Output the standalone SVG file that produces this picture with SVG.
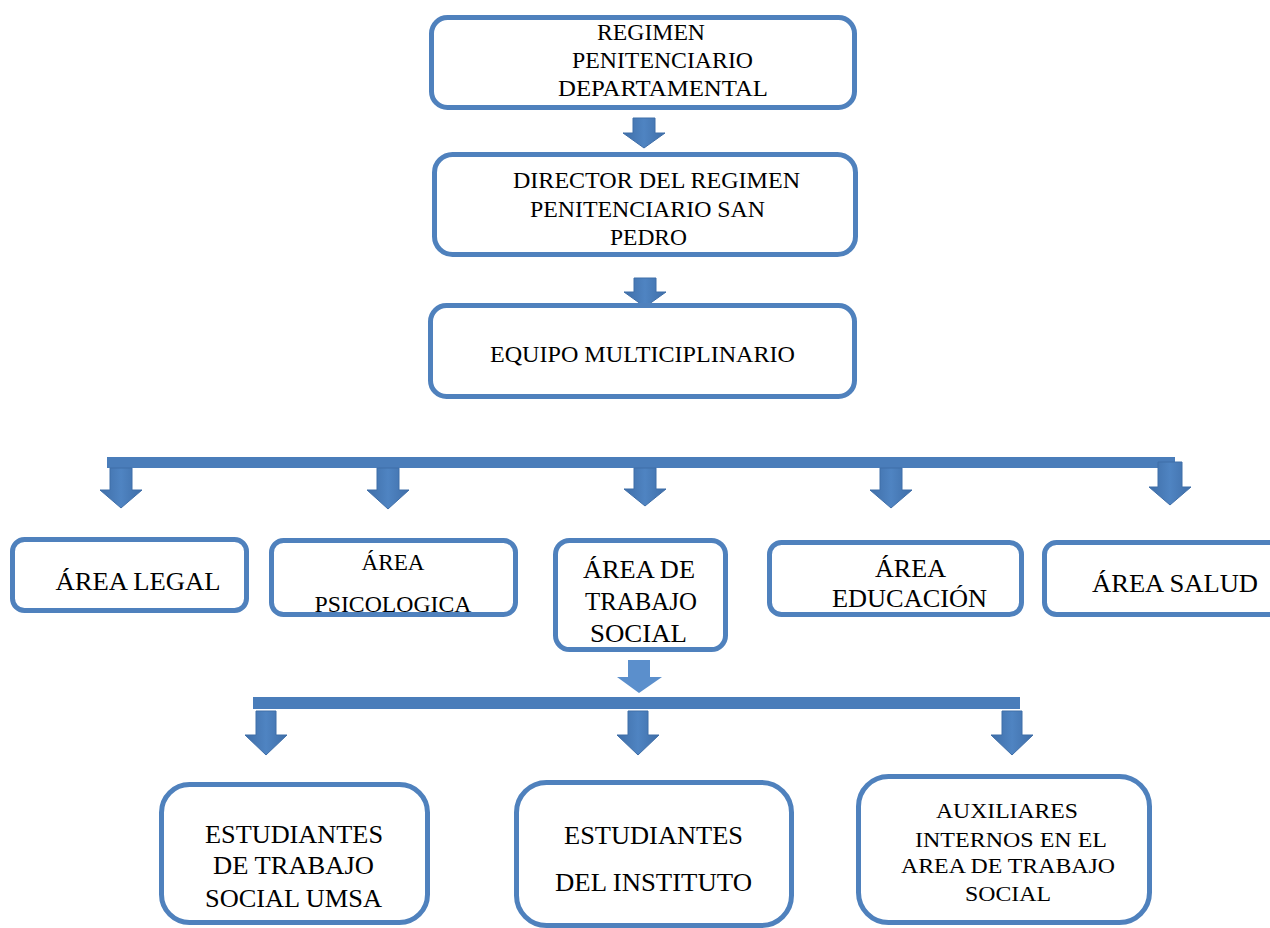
<svg xmlns="http://www.w3.org/2000/svg" width="1270" height="928" viewBox="0 0 1270 928">
<style>
.box{fill:#fff;stroke:#4f81bd;stroke-width:5}
.bar{fill:#4a7dba}
.arr{fill:url(#ag);stroke:#3f6ea8;stroke-width:1}
.arr2{fill:#5b8fcc}
text{font-family:"Liberation Serif","Times New Roman",serif;fill:#000;text-anchor:middle}
.t22{font-size:22px}
.t23{font-size:23px}
.t25{font-size:25px}
</style>
<defs>
<linearGradient id="ag" x1="0" y1="0" x2="1" y2="0">
<stop offset="0" stop-color="#3f6ea8"/>
<stop offset="0.5" stop-color="#4f84c2"/>
<stop offset="1" stop-color="#3f6ea8"/>
</linearGradient>
</defs>
<rect width="1270" height="928" fill="#fff"/>

<g id="connectors">
<polygon class="arr" points="633,118 655,118 655,133 665,133 644,148 623,133 633,133"/>
<polygon class="arr" points="634,278 656,278 656,292 666,292 645,307 624,292 634,292"/>
<rect class="bar" x="107" y="457" width="1068" height="11"/>
<polygon class="arr" points="110,468 132,468 132,490 142,490 121,508 100,490 110,490"/>
<polygon class="arr" points="377,468 399,468 399,490 409,490 388,509 367,490 377,490"/>
<polygon class="arr" points="634,468 656,468 656,489 666,489 645,506 624,489 634,489"/>
<polygon class="arr" points="880,468 902,468 902,490 912,490 891,508 870,490 880,490"/>
<polygon class="arr" points="1158,462 1182,462 1182,487 1191,487 1170,505 1149,487 1158,487"/>
<polygon class="arr2" points="628,660 650,660 650,677 662,677 639,693 617,677 628,677"/>
<rect class="bar" x="253" y="697" width="767" height="12"/>
<polygon class="arr" points="256,711 276,711 276,735 287,735 266,755 245,735 256,735"/>
<polygon class="arr" points="628,711 648,711 648,735 659,735 638,755 617,735 628,735"/>
<polygon class="arr" points="1002,711 1022,711 1022,735 1033,735 1012,755 991,735 1002,735"/>
</g>

<g id="regimen">
<rect class="box" x="431.5" y="17.5" width="423" height="90" rx="16"/>
<text class="t23" x="651" y="40" textLength="108" lengthAdjust="spacingAndGlyphs">REGIMEN</text>
<text class="t23" x="662.5" y="68" textLength="181" lengthAdjust="spacingAndGlyphs">PENITENCIARIO</text>
<text class="t23" x="663" y="96" textLength="210" lengthAdjust="spacingAndGlyphs">DEPARTAMENTAL</text>
</g>

<g id="director">
<rect class="box" x="434.5" y="154.5" width="421" height="100" rx="18"/>
<text class="t23" x="656.5" y="188" textLength="287" lengthAdjust="spacingAndGlyphs">DIRECTOR DEL REGIMEN</text>
<text class="t23" x="647.5" y="217" textLength="235" lengthAdjust="spacingAndGlyphs">PENITENCIARIO SAN</text>
<text class="t23" x="648.5" y="245" textLength="77" lengthAdjust="spacingAndGlyphs">PEDRO</text>
</g>

<g id="equipo">
<rect class="box" x="430.5" y="305.5" width="424" height="91" rx="16"/>
<text class="t23" x="642.5" y="362" textLength="305" lengthAdjust="spacingAndGlyphs">EQUIPO MULTICIPLINARIO</text>
</g>

<g id="legal">
<rect class="box" x="12.5" y="539.5" width="234" height="71" rx="12"/>
<text class="t25" x="138" y="590" textLength="165" lengthAdjust="spacingAndGlyphs">ÁREA LEGAL</text>
</g>

<g id="psicologica">
<rect class="box" x="271.5" y="540.5" width="244" height="74" rx="12"/>
<text class="t23" x="393" y="570" textLength="63" lengthAdjust="spacingAndGlyphs">ÁREA</text>
<text class="t23" x="393" y="612" textLength="157" lengthAdjust="spacingAndGlyphs">PSICOLOGICA</text>
</g>

<g id="trabajo-social">
<rect class="box" x="555.5" y="540.5" width="170" height="109" rx="14"/>
<text class="t25" x="639" y="578" textLength="112" lengthAdjust="spacingAndGlyphs">ÁREA DE</text>
<text class="t25" x="641" y="610" textLength="112" lengthAdjust="spacingAndGlyphs">TRABAJO</text>
<text class="t25" x="638.5" y="642" textLength="97" lengthAdjust="spacingAndGlyphs">SOCIAL</text>
</g>

<g id="educacion">
<rect class="box" x="769.5" y="542.5" width="252" height="72" rx="12"/>
<text class="t25" x="910.5" y="577" textLength="71" lengthAdjust="spacingAndGlyphs">ÁREA</text>
<text class="t25" x="909.5" y="607" textLength="155" lengthAdjust="spacingAndGlyphs">EDUCACIÓN</text>
</g>

<g id="salud">
<rect class="box" x="1044.5" y="542.5" width="240" height="72" rx="12"/>
<text class="t25" x="1175" y="592" textLength="166" lengthAdjust="spacingAndGlyphs">ÁREA SALUD</text>
</g>

<g id="estudiantes-umsa">
<rect class="box" x="161.5" y="784.5" width="266" height="138" rx="28"/>
<text class="t25" x="294" y="843" textLength="178" lengthAdjust="spacingAndGlyphs">ESTUDIANTES</text>
<text class="t25" x="293.5" y="874" textLength="161" lengthAdjust="spacingAndGlyphs">DE TRABAJO</text>
<text class="t25" x="293.5" y="907" textLength="177" lengthAdjust="spacingAndGlyphs">SOCIAL UMSA</text>
</g>

<g id="estudiantes-instituto">
<rect class="box" x="516.5" y="782.5" width="275" height="143" rx="30"/>
<text class="t25" x="653.5" y="844" textLength="179" lengthAdjust="spacingAndGlyphs">ESTUDIANTES</text>
<text class="t25" x="653.5" y="891" textLength="197" lengthAdjust="spacingAndGlyphs">DEL INSTITUTO</text>
</g>

<g id="auxiliares">
<rect class="box" x="858.5" y="776.5" width="291" height="146" rx="30"/>
<text class="t22" x="1007" y="818" textLength="142" lengthAdjust="spacingAndGlyphs">AUXILIARES</text>
<text class="t22" x="1011" y="847" textLength="192" lengthAdjust="spacingAndGlyphs">INTERNOS EN EL</text>
<text class="t22" x="1008" y="873" textLength="214" lengthAdjust="spacingAndGlyphs">AREA DE TRABAJO</text>
<text class="t22" x="1008" y="901" textLength="86" lengthAdjust="spacingAndGlyphs">SOCIAL</text>
</g>
</svg>
